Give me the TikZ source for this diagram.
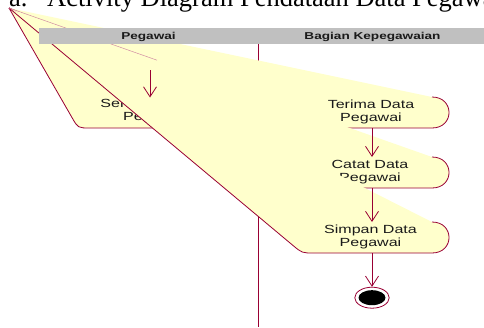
\documentclass[tikz,border=0pt]{standalone}
\usepackage{fontspec}
\setmainfont{Liberation Serif}
\newfontfamily\actfont[FakeStretch=1.36]{Liberation Sans}
\usetikzlibrary{arrows.meta,calc,shapes.geometric}

\definecolor{actfill}{HTML}{FFFFCC}
\definecolor{actline}{HTML}{990033}
\definecolor{lanegray}{HTML}{C0C0C0}
\definecolor{inktext}{HTML}{1A1A1A}

% One activity: #1 name, #2 centre x, #3 top y (height 31, rounded right end).
% Its left side is pulled to the common point (apex).
\newcommand\activityshape[3]{%
  \coordinate (#1-t)  at (#2,#3);
  \coordinate (#1-b)  at (#2,#3+31);
  \coordinate (#1-tr) at (#2+60,#3);
  \coordinate (#1-br) at (#2+60,#3+31);
  \coordinate (#1-bl) at (#2-70,#3+31);
  \fill[actfill] (apex) -- ($(#1-bl)!12pt!(apex)$) .. controls (#1-bl) .. ($(#1-bl)+(12,0)$)
    -- (#1-br) .. controls ($(#1-br)+(22.7,0)$) and ($(#1-tr)+(22.7,0)$) .. (#1-tr) -- cycle;
  \draw[actedge] (apex) -- ($(#1-bl)!12pt!(apex)$) .. controls (#1-bl) .. ($(#1-bl)+(12,0)$)
    -- (#1-br) .. controls ($(#1-br)+(22.7,0)$) and ($(#1-tr)+(22.7,0)$) .. (#1-tr);
}

\begin{document}
\begin{tikzpicture}[x=1pt,y=-1pt,
  actedge/.style={draw=actline, line width=0.8pt},
  conn/.style={draw=actline, line width=0.8pt, -{Straight Barb[length=10pt,width=13pt]}},
  acttext/.style={anchor=base, inner sep=0pt, text=inktext,
    font=\actfont\fontsize{11.8}{13.3}\selectfont},
  lanetext/.style={anchor=base, inner sep=0pt, text=inktext,
    font=\actfont\bfseries\fontsize{10}{11}\selectfont}]
  \useasboundingbox (0,0) rectangle (484,327);
  \clip (0,0) rectangle (484,327);

  % title
  \node[anchor=base west, inner sep=0pt, font=\fontsize{26.5}{30}\selectfont] (title) at (9,6)
    {a.\hspace{19.6pt}Activity Diagram Pendataan Data Pegawai};

  % lane divider
  \coordinate (div-top) at (258,44);
  \coordinate (div-bot) at (258,327);
  \draw[actedge] (div-top) -- (div-bot);

  \coordinate (apex) at (9,8);

  % activities, in drawing order
  \activityshape{serahkan}{148}{97}
  \node[acttext] (serahkan) at (154,107.5)
    {\begin{tabular}[t]{@{}c@{}}Serahkan Data\\Pegawai\end{tabular}};

  \activityshape{terima}{372}{97}
  \node[acttext] (terima) at (371,108)
    {\begin{tabular}[t]{@{}c@{}}Terima Data\\Pegawai\end{tabular}};

  \activityshape{catat}{372}{157}
  \node[acttext] (catat) at (370,168)
    {\begin{tabular}[t]{@{}c@{}}Catat Data\\Pegawai\end{tabular}};

  \activityshape{simpan}{372}{222}
  \node[acttext] (simpan) at (370.5,233)
    {\begin{tabular}[t]{@{}c@{}}Simpan Data\\Pegawai\end{tabular}};

  % thin seam left along one edge near the apex
  \coordinate (seam) at (157,60.2);
  \draw[actline!45, line width=0.5pt] (apex) -- (seam);

  % final state
  \node[ellipse, draw=actline, fill=white, line width=0.8pt, minimum width=34.4pt,
    minimum height=21pt, inner sep=0pt] (final) at (372,297.7) {};
  \node[ellipse, fill=black, minimum width=27pt, minimum height=15pt, inner sep=0pt]
    (final-dot) at (final.center) {};

  % transitions
  \coordinate (start-in) at (150,70);
  \coordinate (serahkan-in) at (150,97.5);
  \draw[conn] (start-in) -- (serahkan-in);
  \draw[conn] (terima-b) -- (catat-t);
  \draw[conn] (catat-b) -- (simpan-t);
  \draw[conn] (simpan-b) -- (final.north);

  % swimlane header
  \node[fill=lanegray, inner sep=0pt, minimum width=445pt, minimum height=16pt,
    anchor=north west] (lanehead) at (39,28) {};
  \node[lanetext] (lane-pegawai) at (148.5,39.3) {Pegawai};
  \node[lanetext] (lane-bagian) at (372.5,39.3) {Bagian Kepegawaian};
\end{tikzpicture}
\end{document}
